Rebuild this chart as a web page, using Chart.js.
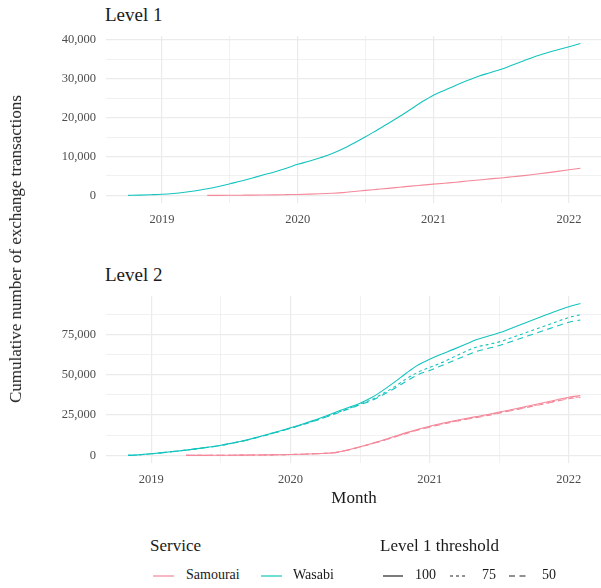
<!DOCTYPE html>
<html>
<head>
<meta charset="utf-8">
<script src="https://cdn.jsdelivr.net/npm/chart.js@4.4.1/dist/chart.umd.min.js"></script>
<style>
  html, body { margin: 0; padding: 0; overflow: hidden; background: #fff; }
  body { width: 601px; height: 588px; position: relative; font-family: 'Liberation Serif', serif; color: #1a1a1a; }
  .abs { position: absolute; white-space: nowrap; }
  canvas { position: absolute; left: 0; }
  .ptitle { font-size: 19px; left: 105px; }
  .ltitle { font-size: 17px; top: 536px; }
  .litem { font-size: 14px; top: 567px; }
  svg.key { position: absolute; top: 570px; }
</style>
</head>
<body>
<div class="abs ptitle" style="top:4px">Level 1</div>
<div class="abs ptitle" style="top:264px">Level 2</div>
<canvas id="level1" width="603" height="240" style="top:0"></canvas>
<canvas id="level2" width="603" height="240" style="top:260px"></canvas>
<div class="abs" style="font-size:17px; left:16px; top:249px; transform: translate(-50%, -50%) rotate(-90deg);">Cumulative number of exchange transactions</div>
<div class="abs" style="font-size:17px; left:354px; top:498px; transform: translate(-50%, -50%);">Month</div>

<div class="abs ltitle" style="left:150px">Service</div>
<div class="abs ltitle" style="left:380px">Level 1 threshold</div>

<svg class="key" style="left:153px" width="21" height="12"><line x1="0" y1="6" x2="21" y2="6" stroke="#F4899B" stroke-width="1.2"/></svg>
<div class="abs litem" style="left:186px">Samourai</div>
<svg class="key" style="left:261px" width="21" height="12"><line x1="0" y1="6" x2="21" y2="6" stroke="#14C4BE" stroke-width="1.2"/></svg>
<div class="abs litem" style="left:293px">Wasabi</div>

<svg class="key" style="left:383px" width="20" height="12"><line x1="0" y1="6" x2="20" y2="6" stroke="#222" stroke-width="1.2"/></svg>
<div class="abs litem" style="left:415px">100</div>
<svg class="key" style="left:450px" width="18" height="12"><line x1="0" y1="6" x2="18" y2="6" stroke="#222" stroke-width="1.2" stroke-dasharray="3,3"/></svg>
<div class="abs litem" style="left:482px">75</div>
<svg class="key" style="left:509px" width="18" height="12"><line x1="0" y1="6" x2="18" y2="6" stroke="#222" stroke-width="1.2" stroke-dasharray="6,4.5"/></svg>
<div class="abs litem" style="left:542px">50</div>

<script>
'use strict';
// colours
var pink = '#F4899B';
var teal = '#14C4BE';

// Level 1 (monthly cumulative counts)
var wasabiL1Start = '2018-10';
var wasabiL1 = [0, 80, 180,
  300, 500, 800, 1200, 1700, 2300, 3000, 3700, 4500, 5300, 6100, 7000,
  8000, 8800, 9700, 10700, 12000, 13500, 15100, 16800, 18500, 20300, 22200, 24100,
  25800, 27100, 28400, 29600, 30700, 31600, 32500, 33600, 34700, 35800, 36700, 37500,
  38300, 39100];
var samouraiL1Start = '2019-05';
var samouraiL1 = [0, 20, 40, 60, 80, 110, 150, 200,
  250, 320, 420, 550, 720, 1000, 1300, 1550, 1800, 2100, 2400, 2650,
  2900, 3150, 3400, 3700, 3950, 4250, 4500, 4800, 5100, 5450, 5800, 6200,
  6600, 7000];

// Level 2, by level 1 threshold
var wasabiL2Start = '2018-11';
var wasabiL2_100 = [0, 400,
  1000, 1700, 2500, 3300, 4200, 5200, 6300, 7700, 9200, 11000, 13000, 15000,
  17100, 19300, 21700, 24300, 27000, 29700, 32300, 35800, 40400, 45500, 51000, 56000,
  59500, 62600, 65500, 68500, 71600, 73800, 75900, 78600, 81400, 84100, 86900, 89600,
  92100, 94000];
var wasabiL2_75 = [0, 400,
  1000, 1700, 2500, 3300, 4200, 5200, 6200, 7600, 9100, 10900, 12800, 14800,
  16900, 19000, 21300, 23800, 26400, 29000, 31800, 34500, 38400, 42600, 47500, 51500,
  54500, 57300, 60700, 64000, 67000, 68600, 70300, 72700, 75200, 77800, 80300, 82900,
  85400, 87100];
var wasabiL2_50 = [0, 400,
  1000, 1700, 2500, 3300, 4200, 5100, 6200, 7500, 9000, 10800, 12700, 14700,
  16800, 18900, 21100, 23600, 26100, 28700, 31400, 34000, 37600, 41600, 46000, 50000,
  52600, 55500, 58500, 61500, 64300, 66200, 68000, 70400, 72800, 75300, 77700, 80100,
  82500, 83800];
var samouraiL2Start = '2019-04';
var samouraiL2_100 = [0, 30, 60, 100, 140, 190, 250, 320, 400,
  550, 750, 1000, 1300, 1900, 3500, 5400, 7400, 9500, 11800, 14100, 16200,
  18100, 19800, 21300, 22700, 24000, 25300, 26900, 28300, 29800, 31400, 32900, 34500,
  36000, 37000];
var samouraiL2_75 = [0, 30, 60, 100, 140, 190, 250, 320, 400,
  550, 750, 1000, 1300, 1900, 3400, 5300, 7200, 9300, 11500, 13800, 15900,
  17700, 19400, 20900, 22300, 23600, 24900, 26400, 27800, 29300, 30800, 32300, 33900,
  35400, 36300];
var samouraiL2_50 = [0, 30, 60, 100, 140, 190, 250, 320, 400,
  550, 750, 1000, 1300, 1900, 3400, 5200, 7100, 9200, 11400, 13600, 15700,
  17500, 19200, 20700, 22100, 23400, 24700, 26200, 27600, 29100, 30600, 32100, 33600,
  35100, 35900];

// ticks (major ones get labels, minor ones only a grid line)
var xMajor = [2019, 2020, 2021, 2022];
var xMinor = [2019.5, 2020.5, 2021.5];
var yMajorL1 = [0, 10000, 20000, 30000, 40000];
var yMinorL1 = [5000, 15000, 25000, 35000];
var yMajorL2 = [0, 25000, 50000, 75000];
var yMinorL2 = [12500, 37500, 62500, 87500];

var dashes = { '100': [], '75': [3, 3], '50': [6, 4.5] };

Chart.defaults.font.family = "'Liberation Serif', serif";
Chart.defaults.color = '#4d4d4d';

// 'YYYY-MM' + i months -> decimal year
function monthPoints(start, values) {
  var y = parseInt(start.slice(0, 4), 10);
  var m = parseInt(start.slice(5, 7), 10) - 1;
  return values.map(function (v, i) {
    return { x: y + (m + i) / 12, y: v };
  });
}

function line(label, start, values, color, threshold) {
  return {
    label: label,
    data: monthPoints(start, values),
    borderColor: color,
    borderWidth: 1.1,
    borderDash: dashes[threshold],
    pointRadius: 0,
    cubicInterpolationMode: 'monotone',
    fill: false
  };
}

// ggplot style 5% expansion
function expand(datasets, key) {
  var lo = Infinity, hi = -Infinity;
  datasets.forEach(function (d) {
    d.data.forEach(function (p) {
      lo = Math.min(lo, p[key]);
      hi = Math.max(hi, p[key]);
    });
  });
  var pad = (hi - lo) * 0.05;
  return { min: lo - pad, max: hi + pad };
}

function tickList(major, minor) {
  return major.concat(minor).sort(function (a, b) { return a - b; })
    .map(function (v) { return { value: v }; });
}

function drawPanel(id, datasets, yMajor, yMinor) {
  var xr = expand(datasets, 'x');
  var yr = expand(datasets, 'y');
  var gridWidth = function (majors) {
    return function (c) { return majors.indexOf(c.tick.value) > -1 ? 1.2 : 0.7; };
  };
  new Chart(document.getElementById(id), {
    type: 'line',
    data: { datasets: datasets },
    options: {
      responsive: false,
      animation: false,
      layout: { padding: { top: 36, left: 0, right: 0, bottom: 0 } },
      plugins: { legend: { display: false }, tooltip: { enabled: false } },
      scales: {
        x: {
          type: 'linear',
          min: xr.min,
          max: xr.max,
          afterBuildTicks: function (s) { s.ticks = tickList(xMajor, xMinor); },
          afterFit: function (s) { s.height = 37; },
          border: { display: false },
          grid: { drawTicks: false, color: '#ebebeb', lineWidth: gridWidth(xMajor) },
          ticks: {
            autoSkip: false,
            maxRotation: 0,
            padding: 9,
            font: { size: 12.5 },
            callback: function (v) { return xMajor.indexOf(v) > -1 ? String(v) : ''; }
          }
        },
        y: {
          min: yr.min,
          max: yr.max,
          afterBuildTicks: function (s) { s.ticks = tickList(yMajor, yMinor); },
          afterFit: function (s) { s.width = 105.5; },
          border: { display: false },
          grid: { drawTicks: false, color: '#ebebeb', lineWidth: gridWidth(yMajor) },
          ticks: {
            autoSkip: false,
            padding: 9.5,
            font: { size: 12.5 },
            callback: function (v) { return yMajor.indexOf(v) > -1 ? v.toLocaleString('en-US') : ''; }
          }
        }
      }
    }
  });
}

drawPanel('level1', [
  line('Samourai', samouraiL1Start, samouraiL1, pink, '100'),
  line('Wasabi', wasabiL1Start, wasabiL1, teal, '100')
], yMajorL1, yMinorL1);

drawPanel('level2', [
  line('Samourai 50', samouraiL2Start, samouraiL2_50, pink, '50'),
  line('Samourai 75', samouraiL2Start, samouraiL2_75, pink, '75'),
  line('Samourai 100', samouraiL2Start, samouraiL2_100, pink, '100'),
  line('Wasabi 50', wasabiL2Start, wasabiL2_50, teal, '50'),
  line('Wasabi 75', wasabiL2Start, wasabiL2_75, teal, '75'),
  line('Wasabi 100', wasabiL2Start, wasabiL2_100, teal, '100')
], yMajorL2, yMinorL2);
</script>
</body>
</html>
